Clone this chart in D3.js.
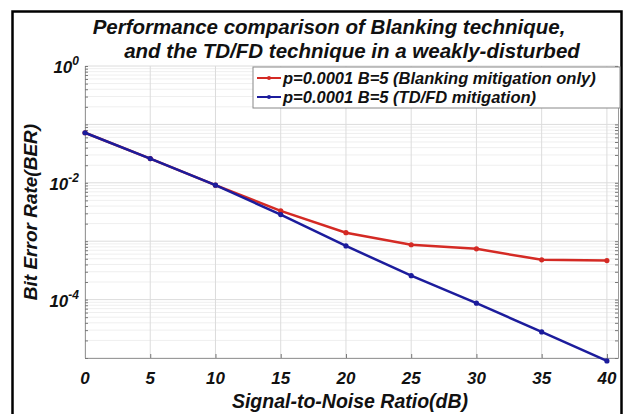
<!DOCTYPE html>
<meta charset="utf-8">
<style>
    body{ margin:0; background:#fff; }
    text{ font-family:"Liberation Sans", Arial, sans-serif; font-weight:bold; font-style:italic; fill:#111; }
    .grid line{ stroke:#dcdcdc; stroke-width:1; }
    .minor line{ stroke:#efefef; stroke-width:1; }
</style>
<body>
<svg id="chart" width="631" height="414"></svg>
</body>
<script src="https://d3js.org/d3.v7.min.js"></script>
<script>
// data
var snr = [0, 5, 10, 15, 20, 25, 30, 35, 40];
var berBlanking = [0.072, 0.026, 0.0091, 0.0033, 0.0014, 0.00087, 0.00074, 0.00048, 0.000465];
var berTdfd = [0.072, 0.026, 0.0091, 0.00286, 0.00083, 0.000257, 0.000087, 0.000028, 0.0000089];
var xTicks = [0, 5, 10, 15, 20, 25, 30, 35, 40];
var yTickExp = [0, -2, -4];
var titleLines = ["Performance comparison of Blanking technique,", "and the TD/FD technique in a weakly-disturbed"];
var legendLabels = ["p=0.0001 B=5 (Blanking mitigation only)", "p=0.0001 B=5 (TD/FD mitigation)"];
var colors = ["#d42a24", "#1c1c9c"];

var svg = d3.select("#chart");
var plot = {left: 85, right: 618, top: 66, bottom: 358};

var x = d3.scaleLinear().domain([0, 40.85]).range([plot.left, plot.right]);
var y = d3.scaleLog().domain([1e-5, 1]).range([plot.bottom, plot.top]);

// outer frame
svg.append("rect").attr("x", 12.5).attr("y", 11.5).attr("width", 609).attr("height", 420)
    .attr("fill", "none").attr("stroke", "#000").attr("stroke-width", 2.5);

// minor y grid
var minorVals = [];
for (var e = -5; e < 0; e++) {
    for (var m = 2; m <= 9; m++) minorVals.push(m * Math.pow(10, e));
}
svg.append("g").attr("class", "minor").selectAll("line").data(minorVals).enter().append("line")
    .attr("x1", plot.left).attr("x2", plot.right)
    .attr("y1", function(d){ return y(d); }).attr("y2", function(d){ return y(d); });

// major grid
var majorVals = [1e-5, 1e-4, 1e-3, 1e-2, 1e-1, 1];
var grid = svg.append("g").attr("class", "grid");
grid.selectAll(".gy").data(majorVals).enter().append("line")
    .attr("x1", plot.left).attr("x2", plot.right)
    .attr("y1", function(d){ return y(d); }).attr("y2", function(d){ return y(d); });
grid.selectAll(".gx").data(xTicks).enter().append("line")
    .attr("y1", plot.top).attr("y2", plot.bottom)
    .attr("x1", function(d){ return x(d); }).attr("x2", function(d){ return x(d); });

// axes box with inward ticks
var axisColor = "#9a9a9a";
svg.append("g").attr("transform", "translate(0," + plot.bottom + ")")
    .call(d3.axisBottom(x).tickValues(xTicks).tickSizeInner(-4).tickSizeOuter(0).tickFormat(""));
svg.append("g").attr("transform", "translate(" + plot.left + ",0)")
    .call(d3.axisLeft(y).tickValues(majorVals.concat(minorVals)).tickSizeInner(-3).tickSizeOuter(0).tickFormat(""));
svg.append("g").attr("transform", "translate(" + plot.right + ",0)")
    .call(d3.axisRight(y).tickValues(majorVals.concat(minorVals)).tickSizeInner(-3).tickSizeOuter(0).tickFormat(""));
svg.selectAll(".domain").attr("stroke", axisColor);
svg.selectAll(".tick line").attr("stroke", "#777");

// tick labels
svg.append("g").selectAll("text").data(xTicks).enter().append("text")
    .attr("x", function(d){ return x(d); }).attr("y", 384)
    .attr("text-anchor", "middle").style("font-size", "17px")
    .text(function(d){ return d; });

var yl = svg.append("g").selectAll("text").data(yTickExp).enter().append("text")
    .attr("x", 79).attr("y", function(d){ return y(Math.pow(10, d)) + 7; })
    .attr("text-anchor", "end").style("font-size", "17px");
yl.append("tspan").text("10");
yl.append("tspan").attr("dy", -8).style("font-size", "12px").text(function(d){ return d; });

// lines
var line = d3.line().x(function(d){ return x(d[0]); }).y(function(d){ return y(d[1]); });
var series = [berBlanking, berTdfd];
series.forEach(function(s, i){
    var pts = snr.map(function(v, j){ return [v, s[j]]; });
    svg.append("path").datum(pts).attr("d", line)
        .attr("fill", "none").attr("stroke", colors[i]).attr("stroke-width", 2.5);
    svg.append("g").selectAll("circle").data(pts).enter().append("circle")
        .attr("cx", function(d){ return x(d[0]); }).attr("cy", function(d){ return y(d[1]); })
        .attr("r", 2.6).attr("fill", colors[i]);
});

// legend
var lg = svg.append("g").attr("transform", "translate(253,67)");
lg.append("rect").attr("width", 367).attr("height", 41).attr("fill", "#fff").attr("stroke", "#888");
legendLabels.forEach(function(t, i){
    var yy = 11 + i * 19;
    lg.append("line").attr("x1", 4).attr("x2", 28).attr("y1", yy).attr("y2", yy)
        .attr("stroke", colors[i]).attr("stroke-width", 2);
    lg.append("circle").attr("cx", 16).attr("cy", yy).attr("r", 2).attr("fill", colors[i]);
    lg.append("text").attr("x", 30).attr("y", yy + 6).style("font-size", "16.5px").text(t);
});

// title
var titleX = [329, 352];
svg.append("g").selectAll("text").data(titleLines).enter().append("text")
    .attr("x", function(d, i){ return titleX[i]; })
    .attr("y", function(d, i){ return 34 + i * 24; })
    .attr("text-anchor", "middle").style("font-size", "20.5px")
    .text(function(d){ return d; });

// axis labels
svg.append("text").attr("x", 350).attr("y", 408).attr("text-anchor", "middle")
    .style("font-size", "19.5px").text("Signal-to-Noise Ratio(dB)");
svg.append("text").attr("transform", "translate(37,212) rotate(-90)").attr("text-anchor", "middle")
    .style("font-size", "19px").text("Bit Error Rate(BER)");
</script>
